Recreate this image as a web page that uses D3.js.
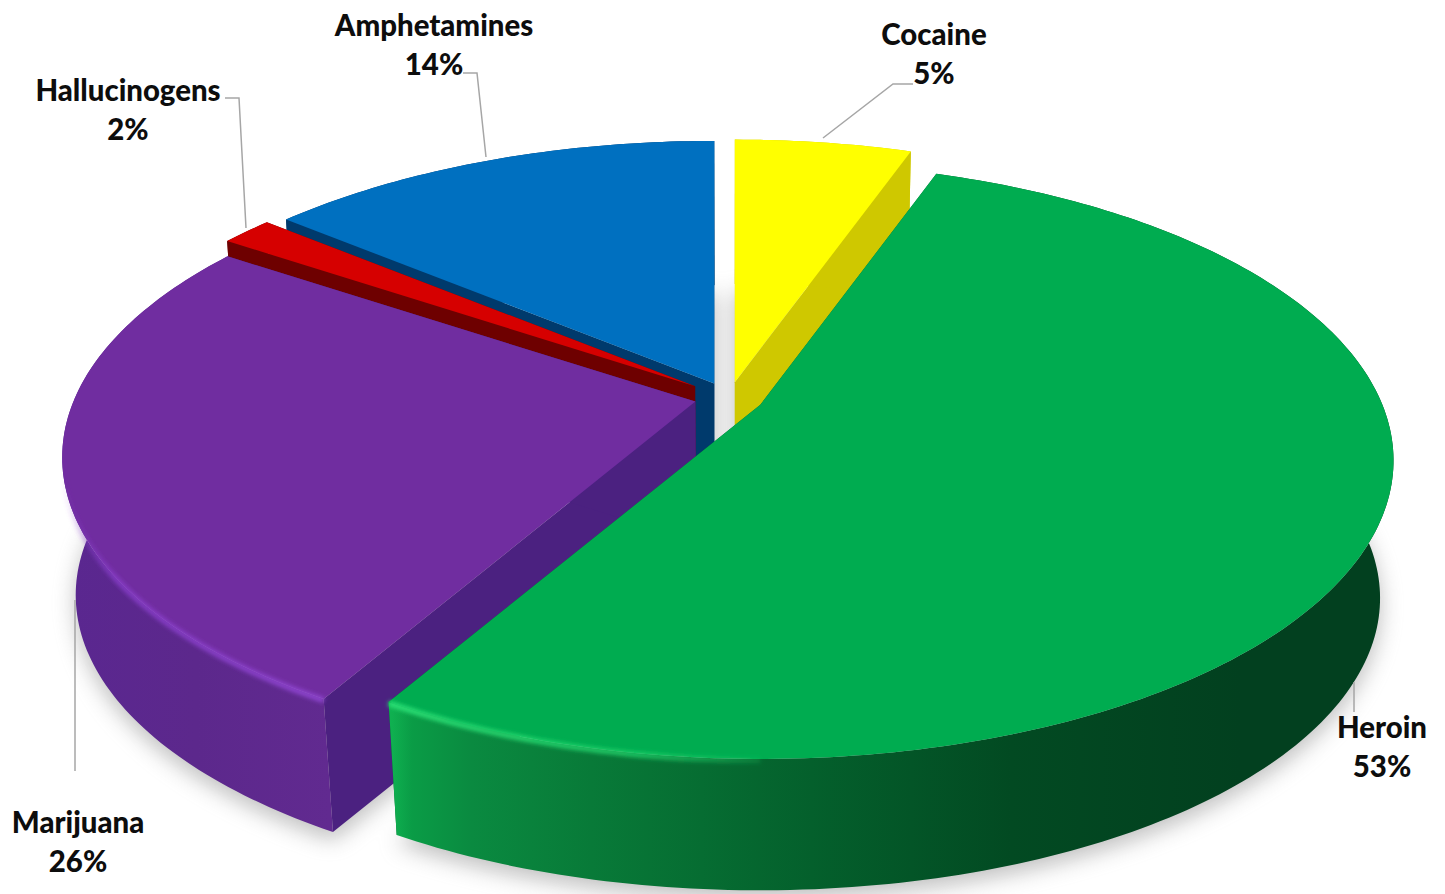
<!DOCTYPE html>
<html>
<head>
<meta charset="utf-8">
<script src="https://cdn.jsdelivr.net/npm/d3@7"></script>
<style>
    html, body {margin: 0; padding: 0; background: #fff; overflow: hidden;}
    text {font-family: Lato, "Open Sans", sans-serif; font-weight: 900; font-size: 29.4px; fill: #0d0d0d;}
</style>
</head>
<body>
<div id="chart"></div>
<script>
var categories = ["Cocaine", "Heroin", "Marijuana", "Hallucinogens", "Amphetamines"];
var shares = [5.4, 52.95, 26.05, 1.6, 14];

var topColors = ["#ffff00", "#00ac50", "#702da0", "#d60000", "#0070c0"];
var edgeColors = ["#cfc800", "#00652c", "#4b2180", "#6e0000", "#003a6c"];
var explodes = [0.0555, 0.0555, 0.0555, 0.068, 0.0555];

// label anchor (middle, first baseline) and leader line for each category
var labelSpots = [[934, 45], [1382, 738], [78, 833], [128, 101], [434, 36]];
var leaders = [
    [[913, 84], [893, 84], [823, 138]],
    [[1354, 682], [1354, 712]],
    [[75, 600], [75, 771]],
    [[225, 98], [239, 98], [246, 228]],
    [[463, 73], [477, 73], [486, 157]]
];

var width = 1445, height = 894;
var cx = 729, cy = 398, rx = 622, ry = 288, persp = 0.187;   // top face
var depth = 140, shrink = 0.02;                              // walls

var svg = d3.select("#chart").append("svg")
    .attr("width", width).attr("height", height);
var defs = svg.append("defs");

defs.append("filter").attr("id", "soft")
    .attr("x", "-20%").attr("y", "-20%").attr("width", "140%").attr("height", "140%")
    .append("feGaussianBlur").attr("stdDeviation", 11);
defs.append("filter").attr("id", "glow")
    .attr("x", "-10%").attr("y", "-10%").attr("width", "120%").attr("height", "120%")
    .append("feGaussianBlur").attr("stdDeviation", 2);

function gradient(id, x1, x2, stops) {
    var g = defs.append("linearGradient").attr("id", id)
        .attr("gradientUnits", "userSpaceOnUse")
        .attr("x1", x1).attr("x2", x2).attr("y1", 0).attr("y2", 0);
    stops.forEach(function(s) {
        g.append("stop").attr("offset", s[0]).attr("stop-color", s[1]).attr("stop-opacity", s[2] === undefined ? 1 : s[2]);
    });
}
gradient("rim1", 392, 1390, [[0, "#0fb050"], [0.02, "#0a9c46"], [0.08, "#0a8a40"], [0.2, "#087a38"], [0.42, "#04602c"], [0.62, "#024a22"], [0.85, "#02401f"], [1, "#02401f"]]);
gradient("rim2", 62, 330, [[0, "#5a2790"], [0.5, "#5c288c"], [1, "#612a90"]]);
gradient("shine1", 392, 800, [[0, "#2be277", 1], [0.6, "#22d56c", 0.85], [1, "#22d56c", 0]]);
gradient("shine2", 62, 330, [[0, "#8a3ecc", 0], [0.2, "#8a3ecc", 0.85], [1, "#8f45d0", 1]]);

var pie = d3.pie().sort(null).value(function(d) { return d; });
var slices = pie(shares).map(function(s, i) {
    var mid = (s.startAngle + s.endAngle) / 2;
    return {
        index: i, a0: s.startAngle, a1: s.endAngle,
        ox: Math.sin(mid) * explodes[i], oy: Math.cos(mid) * explodes[i]
    };
});

// plane point -> screen. r, angle around the piece's own apex, z = 1 is the underside
function project(slice, r, angle, z) {
    var w = 1 + persp * (r * Math.cos(angle)) + shrink * z;
    var ow = 1 + shrink * z;
    return [
        cx + rx * (slice.ox / ow + r * Math.sin(angle) / w),
        cy - ry * (slice.oy / ow + r * Math.cos(angle) / w) + depth * z
    ];
}
function rim(slice, a0, a1, z) {
    var n = Math.max(2, Math.ceil(Math.abs(a1 - a0) * 60));
    return d3.range(n + 1).map(function(i) {
        return project(slice, 1, a0 + (a1 - a0) * i / n, z);
    });
}
var line = d3.line();
function closed(points) { return line(points) + "Z"; }
function face(slice, z) {
    return closed([project(slice, 0, 0, z)].concat(rim(slice, slice.a0, slice.a1, z)));
}
function radialWall(slice, a) {
    return closed([project(slice, 0, a, 0), project(slice, 1, a, 0), project(slice, 1, a, 1), project(slice, 0, a, 1)]);
}

// shadow under all pieces
svg.append("g").attr("filter", "url(#soft)").attr("opacity", 0.5).selectAll("path")
    .data(slices).enter().append("path")
    .attr("transform", "translate(0,8)")
    .attr("fill", "#7f7f7f")
    .attr("d", function(d) { return face(d, 1); });

// back to front
var order = [0, 4, 3, 2, 1];
var pieces = svg.selectAll("g.piece").data(order.map(function(i) { return slices[i]; }))
    .enter().append("g").attr("class", "piece");

pieces.append("path").attr("fill", function(d) { return edgeColors[d.index]; })
    .attr("d", function(d) { return radialWall(d, d.a0); });
pieces.append("path").attr("fill", function(d) { return edgeColors[d.index]; })
    .attr("d", function(d) { return radialWall(d, d.a1); });
pieces.append("path")
    .attr("fill", function(d) {
        if (d.index === 1) return "url(#rim1)";
        if (d.index === 2) return "url(#rim2)";
        return edgeColors[d.index];
    })
    .attr("d", function(d) {
        return closed(rim(d, d.a0, d.a1, 0).concat(rim(d, d.a1, d.a0, 1)));
    });
pieces.append("path").attr("fill", function(d) { return topColors[d.index]; })
    .attr("d", function(d) { return face(d, 0); });

// light bevel along the front rim of the two large pieces
var bevels = [
    {slice: slices[1], from: Math.PI * 1.0, to: slices[1].a1, stroke: "url(#shine1)"},
    {slice: slices[2], from: slices[2].a0, to: Math.PI * 1.44, stroke: "url(#shine2)"}
];
svg.append("g").attr("filter", "url(#glow)").selectAll("path")
    .data(bevels).enter().append("path")
    .attr("fill", "none").attr("stroke-width", 5.5)
    .attr("stroke", function(d) { return d.stroke; })
    .attr("d", function(d) { return line(rim(d.slice, d.from, d.to, 0.01)); });

// leader lines
svg.append("g").selectAll("path").data(leaders).enter().append("path")
    .attr("fill", "none").attr("stroke", "#a6a6a6").attr("stroke-width", 1.5)
    .attr("d", function(d) { return line(d); });

// labels
var labels = svg.append("g").selectAll("g").data(categories).enter().append("g")
    .attr("transform", function(d, i) { return "translate(" + labelSpots[i][0] + "," + labelSpots[i][1] + ")"; });
labels.append("text").attr("text-anchor", "middle").text(function(d) { return d; });
labels.append("text").attr("text-anchor", "middle").attr("y", 39)
    .text(function(d, i) { return Math.round(shares[i]) + "%"; });
</script>
</body>
</html>
